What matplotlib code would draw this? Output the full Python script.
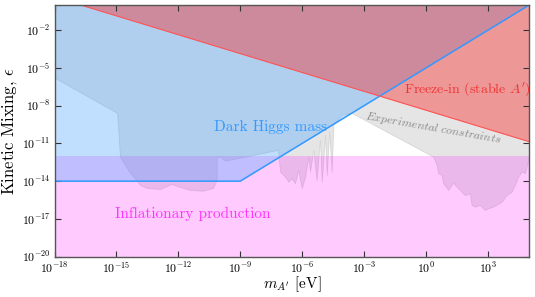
import numpy as np
import matplotlib
matplotlib.use("Agg")
import matplotlib.pyplot as plt

plt.rcParams["font.family"] = "serif"
plt.rcParams["font.serif"] = ["cmr10"]
plt.rcParams["mathtext.fontset"] = "cm"
plt.rcParams["axes.formatter.use_mathtext"] = True

# =====================================================
# Data (log10 values)
# =====================================================

x_min, x_max = 1e-18, 1e5
y_min, y_max = 1e-20, 1e0

# experimental constraints: lower envelope, left to right
exp_logm = [-18.00, -14.97, -14.83, -14.44, -13.86, -13.53, -12.89, -12.32,
            -12.08, -11.44, -10.81, -10.32, -10.14, -10.14, -9.98, -9.74,
            -7.17, -7.07, -6.83, -6.67, -6.51, -6.35, -6.19, -6.02, -5.86,
            -5.70, -5.62, -5.46, -5.30, -5.14, -5.05, -4.89, -4.81, -4.69,
            -4.57, -4.49, -4.09, -3.93, -3.59, 0.35, 0.52, 0.59, 0.76, 0.84,
            1.08, 1.32, 1.40, 1.73, 1.89, 2.13, 2.21, 2.37, 2.61, 2.86, 3.02,
            3.26, 3.67, 3.91, 4.15, 4.31, 4.47, 4.64, 4.80, 4.88, 5.00]
exp_logeps = [-5.78, -8.58, -12.05, -13.11, -14.30, -14.54, -14.62, -14.22,
              -14.38, -14.70, -14.76, -14.54, -13.91, -12.05, -12.05, -12.37,
              -11.52, -13.25, -13.64, -14.04, -13.77, -14.17, -13.11, -14.56,
              -13.64, -12.05, -13.25, -11.52, -13.91, -10.73, -14.04, -10.33,
              -13.51, -10.07, -13.25, -9.53, -8.74, -8.66, -8.58, -12.05,
              -12.71, -13.37, -13.51, -14.17, -14.70, -14.12, -14.30, -14.84,
              -15.10, -14.96, -15.89, -16.03, -15.89, -16.29, -16.15, -16.03,
              -15.63, -15.10, -14.84, -14.30, -13.64, -13.25, -13.37, -12.85,
              -12.05]

# dark Higgs mass bound
higgs_m = [1e-18, 1e-9, 1e5]
higgs_eps = [1e-14, 1e-14, 1e0]

# freeze-in (stable A') bound
freeze_m = [1e-18, 1e5]
freeze_eps = [10**0.64, 10**-10.86]

# inflationary production ceiling
infl_eps = 1e-12

exp_m = 10.0 ** np.array(exp_logm)
exp_eps = 10.0 ** np.array(exp_logeps)

# =====================================================
# Plot
# =====================================================

fig = plt.figure(figsize=(5.35, 2.97), dpi=100)
ax = fig.add_axes([0.102, 0.136, 0.887, 0.847])

ax.set_xscale("log")
ax.set_yscale("log")

ax.fill_between(exp_m, exp_eps, y_max, color="#bfbfbf", alpha=0.4, lw=0.6,
                edgecolor="#b0b0b0")

ax.fill_between([x_min, x_max], y_min, infl_eps, color="#ff33ff", alpha=0.25,
                lw=0)

ax.fill_between(higgs_m, higgs_eps, y_max, color="#4da6ff", alpha=0.35, lw=0)
ax.plot(higgs_m, higgs_eps, color="#3399ff", lw=1.1)

ax.fill_between(freeze_m, freeze_eps, y_max, color="#ff1a1a", alpha=0.38, lw=0)
ax.plot(freeze_m, freeze_eps, color="#ff5555", lw=0.8)

ax.text(10**-7.55, 10**-9.7, "Dark Higgs mass", color="#3399ff", fontsize=11,
        ha="center", va="center")
ax.text(10**2.0, 10**-6.67, r"Freeze-in (stable $A'$)", color="#ee3333",
        fontsize=10, ha="center", va="center")
ax.text(10**0.35, 10**-9.8, r"$\mathit{Experimental\ constraints}$",
        color="#888888", fontsize=8.5, ha="center", va="center", rotation=-10)
ax.text(10**-11.3, 10**-16.6, "Inflationary production", color="#ff33ff",
        fontsize=11, ha="center", va="center")

ax.set_xlim(x_min, x_max)
ax.set_ylim(y_min, y_max)

ax.set_xticks([10.0**k for k in range(-18, 4, 3)])
ax.set_yticks([10.0**k for k in range(-20, 0, 3)])
ax.minorticks_off()

ax.tick_params(which="both", direction="in", top=True, right=True,
               labelsize=8.5, length=4, width=0.8, color="#333333", pad=3)

for s in ax.spines.values():
    s.set_color("#555555")
    s.set_linewidth(1.0)

ax.set_xlabel(r"$m_{A'}$ [eV]", fontsize=11)
ax.set_ylabel(r"Kinetic Mixing, $\epsilon$", fontsize=12)
ax.xaxis.set_label_coords(0.5, -0.072)
ax.yaxis.set_label_coords(-0.075, 0.5)

fig.savefig("out.png", dpi=100)
